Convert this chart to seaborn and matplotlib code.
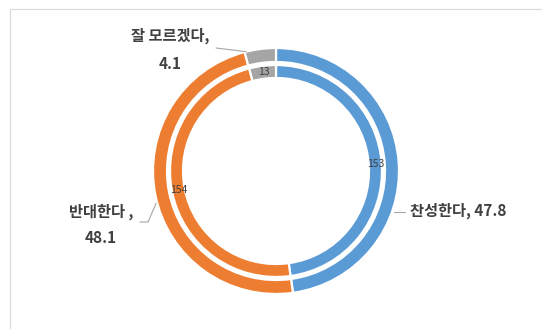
import numpy as np
import matplotlib
matplotlib.use("Agg")
import matplotlib.pyplot as plt
from matplotlib.patches import Rectangle
import seaborn as sns

# Survey responses: share (%) on the outer ring, respondent counts on the inner ring
categories = ["찬성한다", "반대한다", "잘 모르겠다"]
percent = [47.8, 48.1, 4.1]
counts = [153, 154, 13]

sns.set_theme(style="white")
plt.rcParams["font.family"] = ["Noto Sans CJK KR", "DejaVu Sans"]

palette = sns.color_palette(["#5B9BD5", "#ED7D31", "#A5A5A5"])
text_color = "#404040"
leader_color = "#A6A6A6"

W, H = 542, 329
fig = plt.figure(figsize=(W / 100, H / 100), dpi=100)
fig.patch.set_facecolor("white")
ax = fig.add_axes([0, 0, 1, 1])

cx, cy = 276, H - 171
r_outer, w_outer = 123, 14
r_inner, w_inner = 106, 13

ax.pie(percent, radius=r_outer, center=(cx, cy), startangle=90,
       counterclock=False, colors=palette,
       wedgeprops=dict(width=w_outer, edgecolor="white", linewidth=1.6))

_, inner_texts = ax.pie(counts, radius=r_inner, center=(cx, cy), startangle=90,
                        counterclock=False, colors=palette,
                        labels=[str(c) for c in counts],
                        labeldistance=(r_inner - w_inner / 2) / r_inner,
                        wedgeprops=dict(width=w_inner, edgecolor="white", linewidth=1.6))
for t in inner_texts:
    t.set_ha("center")
    t.set_va("center")
    t.set_fontsize(7.5)
    t.set_color(text_color)


def ring_point(theta, r):
    """Point at clockwise angle theta (deg from 12 o'clock) and radius r."""
    a = np.deg2rad(theta)
    return cx + r * np.sin(a), cy + r * np.cos(a)


font = dict(fontsize=11, fontweight="bold", color=text_color)

# 찬성한다 label (right side)
label0 = f"{categories[0]}, {percent[0]}"
ax.text(410, H - 211, label0, ha="left", va="center", **font)
p = ring_point(109, r_outer + 2)
ax.plot([p[0], 405], [p[1], p[1]], color=leader_color, lw=0.8)

# 반대한다 label (left side)
label1 = f"{categories[1]} ,\n{percent[1]}"
ax.text(101, H - 224.5, label1, ha="center", va="center",
        multialignment="center", linespacing=1.75, **font)
p = ring_point(255, r_outer + 1)
ax.plot([140, 148, p[0]], [H - 222, H - 222, p[1]], color=leader_color, lw=0.8)

# 잘 모르겠다 label (top left)
label2 = f"{categories[2]},\n{percent[2]}"
ax.text(170, H - 50, label2, ha="center", va="center",
        multialignment="center", linespacing=1.95, **font)
p = ring_point(346, r_outer)
ax.plot([216, p[0]], [H - 48, p[1]], color=leader_color, lw=0.8)

# chart area frame
ax.add_patch(Rectangle((10, -20), 600, H - 9 + 20, fill=False,
                       edgecolor="#D9D9D9", lw=0.8))

ax.set_xlim(0, W)
ax.set_ylim(0, H)
ax.set_aspect("equal")
ax.axis("off")

fig.savefig("out.png", dpi=100, facecolor="white")
